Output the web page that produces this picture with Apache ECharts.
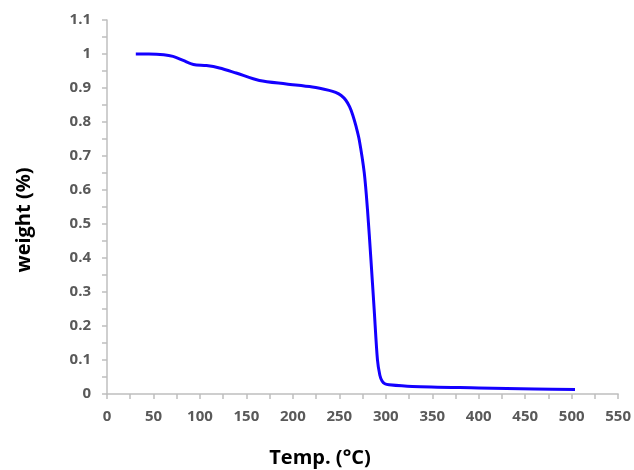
<!DOCTYPE html>
<html>
<head>
<meta charset="utf-8">
<script src="https://cdn.jsdelivr.net/npm/echarts@6/dist/echarts.min.js"></script>
<style>html,body{margin:0;padding:0;background:#fff}#c{width:634px;height:470px}</style>
</head>
<body>
<div id="c"></div>
<script>
const temps = [31, 45, 61, 71, 82, 93, 107, 121, 139, 164, 193, 221, 239, 246, 252, 257, 261, 264.5, 268, 271.4, 276.8, 280.3, 284, 287.5, 291, 293.6, 296, 299, 303.5, 328.5, 400, 460, 503.6];
const weights = [1.0, 1.0, 0.998, 0.993, 0.981, 0.969, 0.966, 0.959, 0.944, 0.922, 0.912, 0.903, 0.893, 0.887, 0.878, 0.864, 0.845, 0.82, 0.787, 0.748, 0.651, 0.542, 0.395, 0.248, 0.101, 0.055, 0.038, 0.030, 0.027, 0.022, 0.018, 0.015, 0.013];
const xTitle = 'Temp. (°C)';
const yTitle = 'weight (%)';

const chart = echarts.init(document.getElementById('c'), null, {renderer: 'canvas'});
const labelStyle = {color: '#595959', fontWeight: 'bold', fontSize: 15, fontFamily: 'Open Sans'};
const axisLineStyle = {color: '#bfbfbf', width: 1.5};
chart.setOption({
  animation: false,
  grid: {left: 107, right: 14, top: 20, bottom: 76},
  xAxis: {
    type: 'value', min: 0, max: 550, interval: 50,
    axisLine: {show: true, lineStyle: axisLineStyle},
    axisTick: {show: true, inside: false, length: 5, lineStyle: axisLineStyle},
    minorTick: {show: true, splitNumber: 2, length: 5, lineStyle: axisLineStyle},
    splitLine: {show: false},
    axisLabel: Object.assign({margin: 15}, labelStyle)
  },
  yAxis: {
    type: 'value', min: 0, max: 1.1, interval: 0.1,
    axisLine: {show: true, lineStyle: axisLineStyle},
    axisTick: {show: true, inside: false, length: 5, lineStyle: axisLineStyle},
    minorTick: {show: true, splitNumber: 2, length: 5, lineStyle: axisLineStyle},
    splitLine: {show: false},
    axisLabel: Object.assign({margin: 16, formatter: v => String(Math.round(v * 10) / 10)}, labelStyle)
  },
  graphic: [
    {type: 'text', x: 320, y: 458, style: {text: xTitle, fill: '#000', font: 'bold 20px "Open Sans"', textAlign: 'center', textVerticalAlign: 'middle'}},
    {type: 'text', x: 24, y: 220, rotation: Math.PI / 2, style: {text: yTitle, fill: '#000', font: 'bold 20px "Open Sans"', textAlign: 'center', textVerticalAlign: 'middle'}}
  ],
  series: [{
    type: 'line',
    data: temps.map((t, i) => [t, weights[i]]),
    smooth: 0.3,
    showSymbol: false,
    lineStyle: {color: '#1400ff', width: 3}
  }]
});
</script>
</body>
</html>
